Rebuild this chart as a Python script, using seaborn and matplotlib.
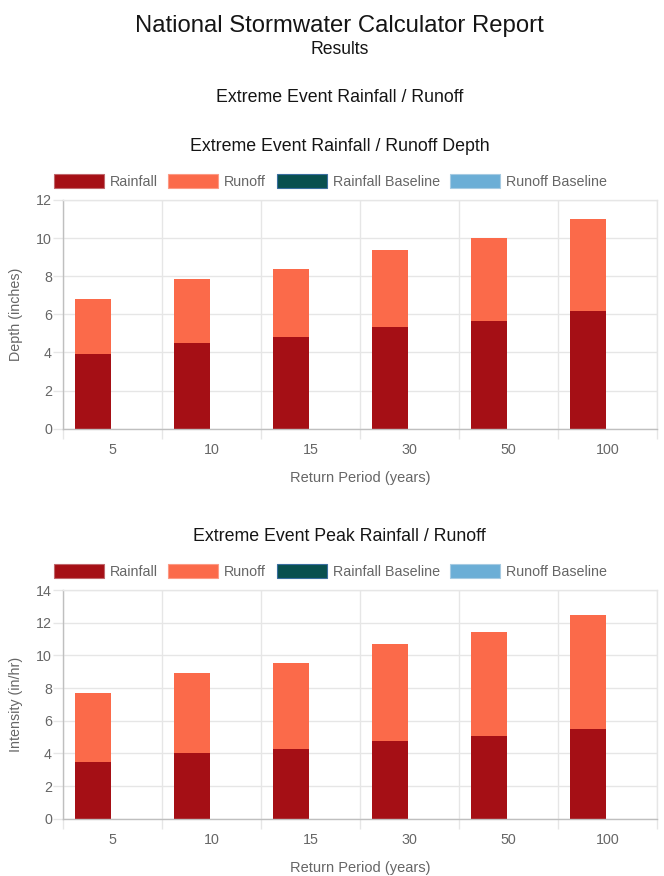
##################################################################################
# National Stormwater Calculator report - extreme event bar charts
##################################################################################
import matplotlib
matplotlib.use('Agg')
import matplotlib.pyplot as plt
from matplotlib.patches import Patch
import seaborn as sns
import numpy as np
import pandas as pd

##################################################################################
# DATA
##################################################################################
# return periods (years)
PERIODS = ['5', '10', '15', '30', '50', '100']

# extreme event depth (inches), runoff stacked on rainfall
DEPTH_RAIN = [3.93, 4.49, 4.79, 5.34, 5.67, 6.18]
DEPTH_RUNOFF = [2.90, 3.34, 3.60, 4.05, 4.35, 4.80]
DEPTH_RAIN_BASE = [0.0, 0.0, 0.0, 0.0, 0.0, 0.0]
DEPTH_RUNOFF_BASE = [0.0, 0.0, 0.0, 0.0, 0.0, 0.0]

# extreme event peak intensity (in/hr)
PEAK_RAIN = [3.49, 4.00, 4.25, 4.74, 5.05, 5.47]
PEAK_RUNOFF = [4.23, 4.90, 5.27, 5.94, 6.36, 6.98]
PEAK_RAIN_BASE = [0.0, 0.0, 0.0, 0.0, 0.0, 0.0]
PEAK_RUNOFF_BASE = [0.0, 0.0, 0.0, 0.0, 0.0, 0.0]

##################################################################################
# STYLE
##################################################################################
RAIN_CLR = '#a50f15'
RUNOFF_CLR = '#fb6a4a'
RAIN_BASE_CLR = '#08504f'
RUNOFF_BASE_CLR = '#6baed6'
GRID_CLR = '#e6e6e6'
AXIS_CLR = '#bfbfbf'
TXT_CLR = '#666666'
TTL_CLR = '#151515'

sns.set_style('white')
plt.rcParams['font.family'] = ['Liberation Sans', 'DejaVu Sans']

W, H = 664., 876.
fig = plt.figure(figsize=(W / 100, H / 100), dpi=100)

# pixel geometry of the two plot areas
left, right = 63., 657.
tops = [200., 590.]
bottoms = [428.7, 818.7]


def draw_chart(ax, rain, runoff, rain_base, runoff_base, ymax):
    df = pd.DataFrame({
        'period': PERIODS * 2,
        'stack': ['Current'] * len(PERIODS) + ['Baseline'] * len(PERIODS),
        'rain': list(rain) + list(rain_base),
        'runoff': list(runoff) + list(runoff_base),
    })
    df['total'] = df['rain'] + df['runoff']

    common = dict(data=df, x='period', hue='stack', order=PERIODS,
                  hue_order=['Current', 'Baseline'], width=0.8, gap=0.1,
                  saturation=1, errorbar=None, linewidth=0, legend=False,
                  ax=ax)
    # runoff sits on top of rainfall, so draw the totals first
    sns.barplot(y='total',
                palette={'Current': RUNOFF_CLR, 'Baseline': RUNOFF_BASE_CLR},
                **common)
    sns.barplot(y='rain',
                palette={'Current': RAIN_CLR, 'Baseline': RAIN_BASE_CLR},
                **common)

    ax.set_xlim(-0.5, len(PERIODS) - 0.5)
    ax.set_ylim(0, ymax)
    ax.set_xlabel('')
    ax.set_ylabel('')

    # gridlines on category boundaries, labels at category centres
    ax.set_xticks(np.arange(-0.5, len(PERIODS), 1.0))
    ax.set_xticklabels([])
    ax.set_xticks(np.arange(len(PERIODS)), minor=True)
    ax.set_xticklabels(PERIODS, minor=True)
    ax.set_yticks(np.arange(0, ymax + 1, 2))

    ax.grid(True, which='major', color=GRID_CLR, lw=1)
    ax.set_axisbelow(True)

    ax.tick_params(axis='x', which='major', length=7.2, width=1,
                   color=GRID_CLR, bottom=True)
    ax.tick_params(axis='x', which='minor', length=0, pad=10.6,
                   labelsize=10.3, labelcolor=TXT_CLR, bottom=True)
    ax.tick_params(axis='y', which='major', length=7.2, width=1, pad=0.8,
                   color=GRID_CLR, labelsize=10.3, labelcolor=TXT_CLR,
                   left=True)
    ax.yaxis.get_major_ticks()[0].tick1line.set_color(AXIS_CLR)

    for side in ['left', 'bottom']:
        ax.spines[side].set_color(AXIS_CLR)
        ax.spines[side].set_linewidth(1)
    for side in ['top', 'right']:
        ax.spines[side].set_color(GRID_CLR)
        ax.spines[side].set_linewidth(1)


charts = [
    (DEPTH_RAIN, DEPTH_RUNOFF, DEPTH_RAIN_BASE, DEPTH_RUNOFF_BASE, 12,
     'Depth (inches)', 'Extreme Event Rainfall / Runoff Depth'),
    (PEAK_RAIN, PEAK_RUNOFF, PEAK_RAIN_BASE, PEAK_RUNOFF_BASE, 14,
     'Intensity (in/hr)', 'Extreme Event Peak Rainfall / Runoff'),
]

handles = [
    Patch(facecolor=RAIN_CLR, edgecolor='#c0666b', lw=0.8, label='Rainfall'),
    Patch(facecolor=RUNOFF_CLR, edgecolor='#fc9a85', lw=0.8, label='Runoff'),
    Patch(facecolor=RAIN_BASE_CLR, edgecolor='#3a6ea0', lw=0.8,
          label='Rainfall Baseline'),
    Patch(facecolor=RUNOFF_BASE_CLR, edgecolor='#a6cbe3', lw=0.8,
          label='Runoff Baseline'),
]

for k, (rain, runoff, rbase, obase, ymax, ylab, ttl) in enumerate(charts):
    top, bot = tops[k], bottoms[k]
    ax = fig.add_axes([left / W, 1 - bot / H, (right - left) / W,
                       (bot - top) / H])
    draw_chart(ax, rain, runoff, rbase, obase, ymax)

    shift = bot - bottoms[0]
    # chart title
    fig.text(339.5 / W, 1 - (150.7 + shift) / H, ttl, ha='center',
             va='baseline', fontsize=12.8, color=TTL_CLR)
    # legend above the plot area
    fig.legend(handles=handles, loc='center', ncol=4, frameon=False,
               bbox_to_anchor=(330.5 / W, 1 - (181.5 + shift) / H),
               fontsize=10.3, labelcolor=TXT_CLR, handlelength=3.5,
               handleheight=1.15, handletextpad=0.42, columnspacing=0.72,
               borderpad=0, borderaxespad=0)
    # axis labels
    fig.text((left + right) / 2 / W, 1 - (478 + shift) / H,
             'Return Period (years)', ha='center', va='center',
             fontsize=10.5, color=TXT_CLR)
    fig.text(16 / W, 1 - (top + bot) / 2 / H, ylab, ha='center',
             va='center', rotation=90, fontsize=10.3, color=TXT_CLR)

# report headings
fig.text(339.5 / W, 1 - 31.7 / H, 'National Stormwater Calculator Report',
         ha='center', va='baseline', fontsize=17.2, color=TTL_CLR)
fig.text(339.5 / W, 1 - 54.3 / H, 'Results', ha='center', va='baseline',
         fontsize=12.7, color=TTL_CLR)
fig.text(339.5 / W, 1 - 102.3 / H, 'Extreme Event Rainfall / Runoff',
         ha='center', va='baseline', fontsize=12.8, color=TTL_CLR)

fig.savefig('out.png', dpi=100)
